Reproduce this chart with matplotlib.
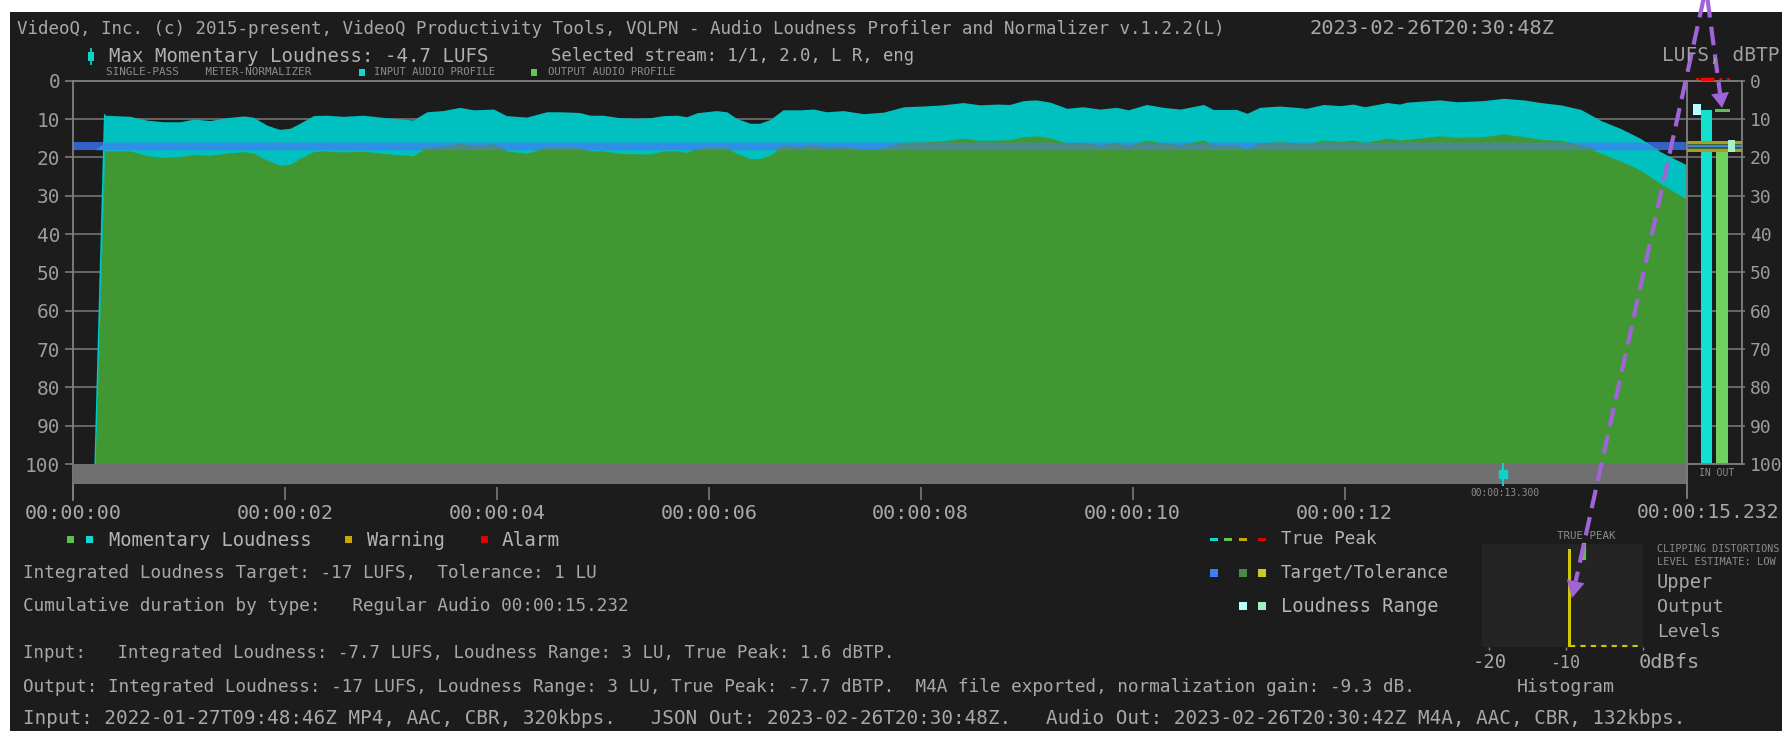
import numpy as np
import matplotlib
matplotlib.use("Agg")
import matplotlib.pyplot as plt
from matplotlib.patches import Rectangle, Polygon

plt.rcParams['font.family'] = ['DejaVu Sans Mono', 'DejaVu Sans']

# ---------------- data ----------------
time_s = [0.21, 0.30, 0.54, 0.70, 0.85, 1.01, 1.14, 1.29, 1.45, 1.61, 1.70, 1.83, 1.95, 2.05, 2.14,
          2.27, 2.39, 2.55, 2.74, 2.90, 3.02, 3.21, 3.34, 3.49, 3.65, 3.78, 3.97, 4.09, 4.28, 4.47,
          4.60, 4.78, 4.88, 5.00, 5.16, 5.32, 5.45, 5.57, 5.70, 5.79, 5.89, 6.07, 6.17, 6.26, 6.39,
          6.48, 6.58, 6.70, 6.86, 6.99, 7.11, 7.27, 7.46, 7.65, 7.84, 8.02, 8.21, 8.40, 8.56, 8.72,
          8.84, 8.97, 9.09, 9.22, 9.38, 9.53, 9.69, 9.85, 9.96, 10.13, 10.29, 10.45, 10.67, 10.76,
          10.98, 11.08, 11.20, 11.39, 11.64, 11.80, 11.96, 12.08, 12.19, 12.40, 12.52, 12.59, 12.90,
          13.06, 13.31, 13.50, 13.69, 13.85, 14.04, 14.23, 14.42, 14.60, 14.79, 14.98, 15.232]
# momentary loudness shown as -LUFS (0 at top, 100 at bottom)
input_momentary = [100, 9.0, 9.3, 10.3, 10.7, 10.7, 10.0, 10.4, 9.65, 9.2, 9.5, 11.6, 12.7, 12.4, 11.1,
                   9.1, 9.0, 9.3, 9.0, 9.5, 9.8, 10.25, 8.1, 7.8, 6.95, 7.6, 7.4, 9.1, 9.5, 8.1,
                   8.1, 8.3, 9.0, 9.0, 9.65, 9.8, 9.65, 9.1, 9.0, 9.4, 8.35, 7.8, 8.1, 9.8, 11.1,
                   11.1, 10.1, 7.6, 7.6, 7.4, 8.1, 7.8, 8.6, 8.2, 6.8, 6.6, 6.3, 5.7, 6.3, 6.1,
                   6.2, 5.2, 5.0, 5.6, 7.2, 6.8, 7.4, 6.95, 7.6, 6.2, 6.95, 7.4, 6.2, 7.5,
                   7.5, 8.5, 6.95, 6.6, 7.2, 6.2, 6.5, 6.1, 6.8, 5.7, 6.1, 5.6, 5.0,
                   5.5, 5.2, 4.6, 5.0, 5.7, 6.3, 7.5, 10.4, 12.4, 15.0, 18.5, 22.0]
output_momentary = [100, 18.3, 18.3, 19.6, 20.0, 19.8, 19.2, 19.5, 18.9, 18.5, 18.9, 20.7, 22.1, 21.8, 20.3,
                    18.5, 18.3, 18.6, 18.4, 18.9, 19.2, 19.6, 17.4, 17.2, 16.3, 17.0, 16.5, 18.3, 18.9, 17.5,
                    17.4, 17.6, 18.3, 18.3, 18.95, 19.1, 19.1, 18.3, 18.3, 18.7, 17.7, 17.4, 17.6, 18.95, 20.3,
                    20.3, 19.4, 17.0, 17.2, 16.8, 17.4, 17.2, 17.9, 17.6, 16.1, 16.0, 15.7, 15.0, 15.6, 15.5,
                    15.4, 14.6, 14.4, 14.9, 16.3, 16.2, 16.8, 16.2, 17.0, 15.5, 16.3, 16.8, 15.5, 16.8,
                    16.8, 17.9, 16.3, 15.9, 16.6, 15.5, 15.9, 15.5, 16.2, 15.0, 15.5, 15.3, 14.4,
                    14.8, 14.6, 13.9, 14.6, 15.3, 15.6, 16.8, 18.95, 20.9, 23.3, 26.8, 31.0]
duration_s = 15.232
max_momentary_time = 13.5
target_lufs = 17
tolerance_lu = 1
y_ticks = list(range(0, 101, 10))
x_ticks = [0, 2, 4, 6, 8, 10, 12]
x_tick_labels = ["00:00:00", "00:00:02", "00:00:04", "00:00:06", "00:00:08",
                 "00:00:10", "00:00:12"]
meter_integrated = [7.7, 17]        # IN, OUT (-LUFS)
meter_lra_low = [6.0, 15.5]         # loudness range start (-LUFS)
meter_lra = [3, 3]                  # LU
true_peak_out = 7.7                 # -dBTP
hist_bins = [-9.5]
hist_heights = [0.95]
hist_true_peak = -7.7

# ---------------- figure ----------------
W, H = 1783, 731
fig = plt.figure(figsize=(W / 100, H / 100), dpi=100)
fig.patch.set_facecolor('white')
BG = '#1c1c1c'
GRID = '#6c6c6c'
SPINE = '#808080'
TXT = '#a8a8a8'
fig.add_artist(Rectangle((10 / W, 0), (W - 10) / W, (H - 12) / H, transform=fig.transFigure,
                         facecolor=BG, edgecolor='none', zorder=-10))


def box(x0, y0, x1, y1):
    return [x0 / W, 1 - y1 / H, (x1 - x0) / W, (y1 - y0) / H]


def px2val(y):
    return (y - 80.7) / 3.833

# main axes
ax = fig.add_axes(box(73, 80.7, 1687, 487), zorder=1)
ax.set_facecolor(BG)
ax.set_xlim(0, duration_s)
ax.set_ylim(px2val(487), 0)
for v in y_ticks[1:-1]:
    ax.axhline(v, color=GRID, lw=1.3, zorder=0.5)
t = np.array(time_s)
inp = np.array(input_momentary)
out = np.array(output_momentary)
lo, hi = target_lufs - tolerance_lu, target_lufs + tolerance_lu
ax.axhspan(lo, hi, color='#3262c6', lw=0, zorder=1)
ax.fill_between(t, inp, 100, color='#00c0c0', lw=0, zorder=2)
ax.fill_between(t, np.clip(inp, lo, hi), hi, color='#2f8fe6', lw=0, zorder=3)
ax.plot(t[:2], inp[:2], color='#00c8c8', lw=1.2, zorder=2)
ax.fill_between(t, out, 100, color='#419832', lw=0, zorder=4)
ax.fill_between(t, np.clip(out, lo, hi), hi, color='#4a8a8c', lw=0, zorder=5)
ax.axhspan(100, px2val(484), color='#707070', lw=0, zorder=6)
ax.plot([max_momentary_time] * 2, [100, px2val(485)], color='#10d0c8', lw=1.5, zorder=7)
ax.plot([max_momentary_time], [px2val(474)], marker='s', ms=5.5, color='#10d0c8', zorder=8)
ax.set_yticks(y_ticks)
ax.set_xticks(x_ticks)
ax.set_xticklabels(x_tick_labels)
ax.tick_params(axis='y', direction='out', length=5.8, width=1.2, color='#7a7a7a',
               labelcolor='#9c9c9c', labelsize=14, pad=3.5)
ax.tick_params(axis='x', direction='out', length=9.4, width=1.2, color='#7a7a7a',
               labelcolor=TXT, labelsize=14.5, pad=2.5)
for s in ['right', 'bottom']:
    ax.spines[s].set_visible(False)
for s in ['left', 'top']:
    ax.spines[s].set_color(SPINE)
    ax.spines[s].set_linewidth(1.3)

# meter axes
axm = fig.add_axes(box(1687, 80.7, 1742, 464), zorder=1)
axm.set_facecolor(BG)
axm.set_xlim(0, 55)
axm.set_ylim(100, 0)
for v in y_ticks[1:-1]:
    axm.axhline(v, color=GRID, lw=1.3, zorder=0.5)
bar_x = [19.5, 34.5]
bar_w = [11, 12]
bar_c = ['#14e0d0', '#70d060']
for x, w, v, c in zip(bar_x, bar_w, meter_integrated, bar_c):
    axm.bar(x, 100 - v, bottom=v, width=w, color=c, lw=0, zorder=2)
lra_x = [10, 44.5]
lra_w = [8, 7]
lra_c = ['#b4ffff', '#a6f0c6']
for x, w, l0, l, c in zip(lra_x, lra_w, meter_lra_low, meter_lra, lra_c):
    axm.bar(x, l, bottom=l0, width=w, color=c, lw=0, zorder=4)
axm.axhspan(lo, hi, color='#3e5e3a', lw=0, zorder=2.5)
axm.axhline(lo, color='#a8a020', lw=2.2, zorder=3)
axm.axhline(hi, color='#a8a020', lw=2.2, zorder=3)
axm.axhline(target_lufs, color='#3a8ee8', lw=1.3, zorder=3)
axm.plot([29, 41], [true_peak_out] * 2, color='#5cbf50', lw=2.2, zorder=5)
axm.plot([9, 45], [-0.4, -0.4], color='#ff0000', lw=1.4, ls=(0, (1.5, 2.5)), clip_on=False, zorder=5)
axm.plot([15, 25], [-0.5, -0.5], color='#ff0000', lw=2.5, clip_on=False, zorder=5)
axm.yaxis.tick_right()
axm.set_yticks(y_ticks)
axm.set_xticks([])
axm.tick_params(axis='y', direction='out', length=2.5, width=1.2, color='#7a7a7a',
                labelcolor='#9c9c9c', labelsize=13, pad=3)
for s in axm.spines.values():
    s.set_color(SPINE)
    s.set_linewidth(1.3)

# histogram axes
axh = fig.add_axes(box(1482, 544, 1643, 647), zorder=1)
axh.set_facecolor('#242424')
axh.set_xlim(-20.9, 0)
axh.set_ylim(0, 1)
axh.bar(hist_bins, hist_heights, width=0.4, color='#d0c800', lw=0)
axh.plot([hist_bins[0], 0], [0.01, 0.01], color='#d0c800', lw=1.5, ls=(0, (2.5, 2.5)), clip_on=False)
axh.plot([hist_true_peak] * 2, [0.86, 0.99], color='#60c050', lw=3, clip_on=False)
axh.set_xticks([-20, -10, 0])
axh.tick_params(axis='x', length=2.5, width=1, color='#8a8a8a', labelbottom=False)
axh.set_yticks([])
for s in axh.spines.values():
    s.set_visible(False)

# overlay (image pixel coordinates)
ov = fig.add_axes([0, 0, 1, 1], zorder=10)
ov.set_xlim(0, W)
ov.set_ylim(H, 0)
ov.axis('off')
ov.patch.set_visible(False)

fits = []


def txt(x0, x1, y, s, color=TXT, base=12):
    tt = ov.text(x0, y, s, fontsize=base, color=color, ha='left', va='center', clip_on=False)
    fits.append((tt, base, x1 - x0))
    return tt


def sq(x0, y0, w, h, c):
    ov.add_patch(Rectangle((x0, y0), w, h, facecolor=c, edgecolor='none'))

# header
txt(17, 1227, 29, "VideoQ, Inc. (c) 2015-present, VideoQ Productivity Tools, VQLPN - Audio Loudness Profiler and Normalizer v.1.2.2(L)")
txt(1310, 1555, 29, "2023-02-26T20:30:48Z")
ov.plot([91, 91], [49, 64], color='#10d0c8', lw=1.3)
sq(88, 52, 6, 9, '#10d0c8')
txt(109, 485, 56, "Max Momentary Loudness: -4.7 LUFS", color='#b0b0b0')
txt(551, 912, 56, "Selected stream: 1/1, 2.0, L R, eng", color='#b0b0b0')
txt(1662, 1779, 55, "LUFS, dBTP", color='#a0a0a0')
txt(106, 310, 72, "SINGLE-PASS    METER-NORMALIZER", color='#8c8c8c')
sq(359, 69, 6, 7, '#10d8d0')
txt(374, 494, 72, "INPUT AUDIO PROFILE", color='#8c8c8c')
sq(531, 69, 6, 7, '#60c850')
txt(548, 676, 72, "OUTPUT AUDIO PROFILE", color='#8c8c8c')

# axis extras
ov.plot([73, 73], [487, 500], color=SPINE, lw=1.3)
ov.plot([1687, 1687], [464, 498], color=SPINE, lw=1.3)
txt(1637, 1779, 512, "00:00:15.232")
txt(1470, 1539, 493, "00:00:13.300", color='#8c8c8c')
txt(1699, 1734, 473, "IN OUT", color='#8c8c8c')

# bottom-left legend and info
sq(67, 536, 7, 7, '#5cc04c')
sq(86, 536, 7, 7, '#10d8d0')
txt(109, 312, 540, "Momentary Loudness", color='#b4b4b4')
sq(345, 536, 7, 7, '#c8a800')
txt(367, 445, 540, "Warning", color='#b4b4b4')
sq(481, 536, 7, 7, '#e00000')
txt(502, 560, 540, "Alarm", color='#b4b4b4')
txt(23, 594, 573, "Integrated Loudness Target: -17 LUFS,  Tolerance: 1 LU")
txt(23, 627, 606, "Cumulative duration by type:   Regular Audio 00:00:15.232")
txt(23, 890, 653, "Input:   Integrated Loudness: -7.7 LUFS, Loudness Range: 3 LU, True Peak: 1.6 dBTP.")
txt(23, 1409, 687, "Output: Integrated Loudness: -17 LUFS, Loudness Range: 3 LU, True Peak: -7.7 dBTP.  M4A file exported, normalization gain: -9.3 dB.")
txt(23, 1678, 719, "Input: 2022-01-27T09:48:46Z MP4, AAC, CBR, 320kbps.   JSON Out: 2023-02-26T20:30:48Z.   Audio Out: 2023-02-26T20:30:42Z M4A, AAC, CBR, 132kbps.")

# bottom-right legend
for x0, c in zip([1210, 1224, 1239, 1258], ['#10d8d0', '#60c850', '#c8a800', '#e00000']):
    sq(x0, 537.5, 8, 3.5, c)
txt(1281, 1376, 539, "True Peak", color='#b4b4b4')
sq(1210, 569, 8, 8, '#3a80f0')
sq(1239, 569, 8, 8, '#4a8a48')
sq(1258, 569, 8, 8, '#d0c828')
txt(1281, 1449, 573, "Target/Tolerance", color='#b4b4b4')
sq(1239, 602, 8, 8, '#b4ffff')
sq(1258, 602, 8, 8, '#98f0c4')
txt(1281, 1438, 606, "Loudness Range", color='#b4b4b4')

# histogram labels
txt(1557, 1615, 536, "TRUE PEAK", color='#8c8c8c')
txt(1473, 1507, 663, "-20")
txt(1550, 1580, 663, "-10")
txt(1639, 1700, 663, "0dBfs")
txt(1517, 1615, 687, "Histogram")
txt(1657, 1778, 549, "CLIPPING DISTORTIONS", color='#8c8c8c')
txt(1657, 1775, 562, "LEVEL ESTIMATE: LOW", color='#8c8c8c')
txt(1657, 1713, 583, "Upper")
txt(1657, 1723, 607, "Output")
txt(1657, 1721, 632, "Levels")

# annotation arrows (purple dashed)
PURPLE = '#a064d8'
start = np.array([1706.0, -12.0])
for tip, hl, hw in [((1572.0, 598.0), 17, 9), ((1722.0, 108.0), 15, 9)]:
    tip = np.array(tip)
    d = tip - start
    d = d / np.hypot(*d)
    n = np.array([-d[1], d[0]])
    base = tip - hl * d
    ov.plot([start[0], base[0]], [start[1], base[1]], color=PURPLE, lw=3,
            ls=(0, (4.5, 2.2)), clip_on=False, solid_capstyle='butt', dash_capstyle='butt')
    ov.add_patch(Polygon([tip, base + hw * n, base - hw * n], closed=True,
                         facecolor=PURPLE, edgecolor='none', clip_on=False))

# fit text widths
r = fig.canvas.get_renderer()
for tt, base, w in fits:
    ww = tt.get_window_extent(r).width
    if ww > 0:
        tt.set_fontsize(base * w / ww)

fig.savefig('out.png', dpi=100, facecolor='white')
